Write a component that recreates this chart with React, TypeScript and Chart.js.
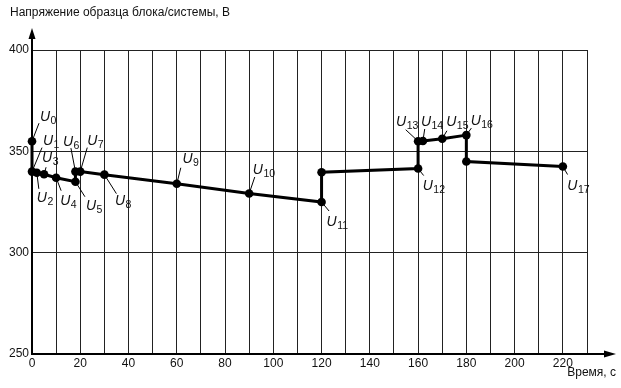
import React, { useEffect, useRef } from "react";
import { Chart, registerables } from "chart.js";

Chart.register(...registerables);

// Data (time in s, voltage in V)
const times = [0, 0, 2, 5, 10, 18, 18, 20, 30, 60, 90, 120, 120, 160, 160, 162, 170, 180, 180, 220];
const volts = [355, 340, 339.4, 338.7, 337, 335, 340, 340, 338.5, 334, 329.2, 325, 339.7, 341.5, 355, 355.1, 356.2, 358, 345, 342.5];
// label subscript for each point (-1 = no label)
const pointLabels = [0, 1, 2, 3, 4, 5, 6, 7, 8, 9, 10, 11, -1, 12, 13, 14, 15, 16, -1, 17];
const xTickLabels = [0, 20, 40, 60, 80, 100, 120, 140, 160, 180, 200, 220];
const yTickValues = [250, 300, 350, 400];
const yTitle = "Напряжение образца блока/системы, В";
const xTitle = "Время, с";

// Label placement (pixel offsets from the point): [textDx, baselineDy, leaderDx, leaderDy]
const labelOffsets: Record<number, number[]> = {
  0: [8, -20, 7, -18],
  1: [11, -27, 10, -24],
  2: [0, 29, 2, 16],
  3: [-2, -12, 2, -7],
  4: [4, 27, 5, 13],
  5: [10.5, 28, 9.5, 15],
  6: [-12.5, -26, -4.5, -23.5],
  7: [7, -27, 7, -24],
  8: [10.5, 30, 12, 19],
  9: [5.6, -21, 4, -16],
  10: [3.6, -19, 5.6, -16.5],
  11: [5, 23.5, 7.5, 9],
  12: [4.6, 21.5, 5.6, 7],
  13: [-22, -15.5, -12.4, -11.5],
  14: [-2, -15.3, 1.8, -12],
  15: [4, -12.5, 4.7, -8],
  16: [4.3, -10, 5, -7],
  17: [4.4, 23.5, 4.7, 8],
};

const FONT = "'Liberation Sans', Arial, sans-serif";

const annotPlugin = {
  id: "annot",
  afterDraw(chart: any) {
    const ctx = chart.ctx;
    const area = chart.chartArea;
    const meta = chart.getDatasetMeta(0);
    ctx.save();
    // axis arrows
    ctx.strokeStyle = "#000";
    ctx.fillStyle = "#000";
    ctx.lineWidth = 2;
    ctx.beginPath();
    ctx.moveTo(area.left, area.top);
    ctx.lineTo(area.left, area.top - 16);
    ctx.moveTo(area.right, area.bottom);
    ctx.lineTo(area.right + 22, area.bottom);
    ctx.stroke();
    ctx.beginPath();
    ctx.moveTo(area.left, area.top - 22);
    ctx.lineTo(area.left - 3.5, area.top - 11);
    ctx.lineTo(area.left + 3.5, area.top - 11);
    ctx.closePath();
    ctx.fill();
    ctx.beginPath();
    ctx.moveTo(area.right + 29, area.bottom);
    ctx.lineTo(area.right + 17, area.bottom - 3.5);
    ctx.lineTo(area.right + 17, area.bottom + 3.5);
    ctx.closePath();
    ctx.fill();

    // titles
    ctx.font = `12px ${FONT}`;
    ctx.textBaseline = "middle";
    ctx.textAlign = "left";
    ctx.fillStyle = "#111";
    ctx.fillText(yTitle, 10, 13);
    ctx.textAlign = "right";
    ctx.fillText(xTitle, 616, 373);

    // point labels
    ctx.lineWidth = 1;
    ctx.textAlign = "left";
    ctx.textBaseline = "alphabetic";
    meta.data.forEach((pt: any, i: number) => {
      const n = pointLabels[i];
      if (n < 0) return;
      const o = labelOffsets[n];
      const px = pt.x;
      const py = pt.y;
      ctx.beginPath();
      ctx.moveTo(px, py);
      ctx.lineTo(px + o[2], py + o[3]);
      ctx.stroke();
      const tx = px + o[0];
      const ty = py + o[1];
      ctx.font = `italic 14px ${FONT}`;
      ctx.fillText("U", tx, ty);
      const w = ctx.measureText("U").width;
      ctx.font = `10.5px ${FONT}`;
      ctx.fillText(String(n), tx + w + 0.5, ty + 3);
    });
    ctx.restore();
  },
};

export default function App() {
  const ref = useRef<HTMLCanvasElement | null>(null);
  useEffect(() => {
    if (!ref.current) return;
    const data = times.map((t, i) => ({ x: t, y: volts[i] }));
    const chart = new Chart(ref.current, {
      type: "scatter",
      data: {
        datasets: [
          {
            data,
            showLine: true,
            clip: false,
            borderColor: "#000",
            borderWidth: 3,
            tension: 0,
            pointRadius: 4.3,
            pointBackgroundColor: "#000",
            pointBorderColor: "#000",
            pointBorderWidth: 0,
          },
        ],
      },
      options: {
        animation: false,
        responsive: false,
        devicePixelRatio: 1,
        layout: { padding: { left: 0, top: 50, right: 34, bottom: 0 } },
        plugins: { legend: { display: false }, tooltip: { enabled: false }, title: { display: false } },
        scales: {
          x: {
            type: "linear",
            min: 0,
            max: 230,
            afterFit: (s: any) => {
              s.height = 34;
            },
            afterBuildTicks: (s: any) => {
              const t = [];
              for (let v = 0; v <= 230; v += 10) t.push({ value: v });
              s.ticks = t;
            },
            ticks: {
              autoSkip: false,
              maxRotation: 0,
              padding: 2,
              color: "#111",
              font: { family: FONT, size: 12 },
              callback: (v: any) => (xTickLabels.includes(Number(v)) ? String(v) : ""),
            },
            grid: { color: "#222", lineWidth: 1, drawTicks: false },
            border: { color: "#000", width: 2 },
          },
          y: {
            type: "linear",
            min: 250,
            max: 400,
            afterFit: (s: any) => {
              s.width = 32;
            },
            afterBuildTicks: (s: any) => {
              s.ticks = yTickValues.map((v) => ({ value: v }));
            },
            ticks: {
              padding: 3,
              color: "#111",
              font: { family: FONT, size: 12 },
            },
            grid: { color: "#222", lineWidth: 1, drawTicks: false },
            border: { color: "#000", width: 2 },
          },
        },
      },
      plugins: [annotPlugin],
    });
    return () => chart.destroy();
  }, []);
  return (
    <div style={{ position: "absolute", left: 0, top: 0, width: 621, height: 388, background: "#fff" }}>
      <canvas ref={ref} width={621} height={388} />
    </div>
  );
}
